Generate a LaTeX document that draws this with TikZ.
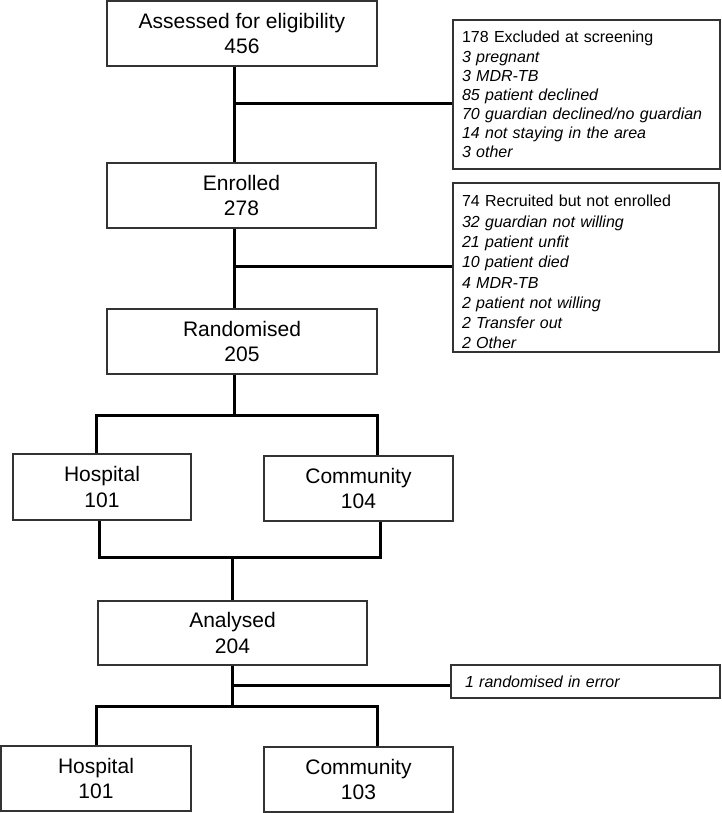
\documentclass[tikz,border=0pt]{standalone}
\usepackage{fontspec}
\setmainfont{Liberation Sans}
\usetikzlibrary{calc}

\begin{document}
\begin{tikzpicture}[x=1pt,y=-1pt]
	\tikzstyle{stage} = [draw=black!80, line width=1.3pt, align=center, inner sep=0pt, font=\fontsize{21}{25.7}\selectfont]
	\tikzstyle{excl} = [draw=black!80, line width=1.3pt, align=left, inner xsep=9pt, inner ysep=0pt, font=\fontsize{16}{19.1}\selectfont]
	\tikzstyle{link} = [line width=3pt, black]
	\useasboundingbox (0,0) rectangle (721,813);
	% main boxes
	\node[stage, minimum width=270pt, minimum height=65pt] (assess) at (242,33.5) {Assessed for eligibility\\456};
	\node[stage, minimum width=269pt, minimum height=65pt] (enrol) at (241.5,195.5) {Enrolled\\278};
	\node[stage, minimum width=270pt, minimum height=65pt] (rand) at (242,341.5) {Randomised\\205};
	\node[stage, minimum width=178pt, minimum height=66pt] (hosp1) at (102,487) {Hospital\\101};
	\node[stage, minimum width=189pt, minimum height=65pt] (comm1) at (358.5,488.5) {Community\\104};
	\node[stage, minimum width=269pt, minimum height=64pt] (anal) at (232.5,633) {Analysed\\204};
	\node[stage, minimum width=190pt, minimum height=65pt] (hosp2) at (96,778.5) {Hospital\\101};
	\node[stage, minimum width=189pt, minimum height=65pt] (comm2) at (358.5,779.5) {Community\\103};
	% exclusions
	\node[excl, text width=249pt, minimum height=149pt] (excl1) at (586.5,94.5) {178 Excluded at screening\\
		\textit{3 pregnant}\\
		\textit{3 MDR-TB}\\
		\textit{85 patient declined}\\
		\textit{70 guardian declined/no guardian}\\
		\textit{14 not staying in the area}\\
		\textit{3 other}};
	\node[excl, text width=248pt, minimum height=169pt, font=\fontsize{16}{20.3}\selectfont] (excl2) at (586,267.5) {\rule{0pt}{23.8pt}74 Recruited but not enrolled\\
		\textit{32 guardian not willing}\\
		\textit{21 patient unfit}\\
		\textit{10 patient died}\\
		\textit{4 MDR-TB}\\
		\textit{2 patient not willing}\\
		\textit{2 Transfer out}\\
		\textit{2 Other}\rule[-3pt]{0pt}{3pt}};
	\node[excl, inner xsep=14pt, text width=241pt, minimum height=33pt] (excl3) at (585.5,681.5) {\textit{1 randomised in error}};
	% connectors
	\coordinate (t1) at (234,104);
	\coordinate (t2) at (234,266);
	\draw[link] (assess.south -| t1) -- (enrol.north -| t1);
	\draw[link] (t1) -- (t1 -| excl1.west);
	\draw[link] (enrol.south -| t2) -- (rand.north -| t2);
	\draw[link] (t2) -- (t2 -| excl2.west);
	% split after randomisation
	\coordinate (s1) at (234,415);
	\coordinate (s1l) at (96,415);
	\coordinate (s1r) at (377,415);
	\draw[link] (rand.south -| s1) -- (s1);
	\draw[link] (hosp1.north -| s1l) -- (s1l) -- (s1r) -- (comm1.north -| s1r);
	% merge into analysis
	\coordinate (m1) at (232,557);
	\coordinate (m1l) at (99,557);
	\coordinate (m1r) at (380,557);
	\draw[link] (hosp1.south -| m1l) -- (m1l) -- (m1r) -- (comm1.south -| m1r);
	\draw[link] (m1) -- (anal.north -| m1);
	% split after analysis
	\coordinate (t3) at (232,685);
	\coordinate (s2) at (232,706);
	\coordinate (s2l) at (96,706);
	\coordinate (s2r) at (377,706);
	\draw[link] (anal.south -| t3) -- (s2);
	\draw[link] (t3) -- (t3 -| excl3.west);
	\draw[link] (hosp2.north -| s2l) -- (s2l) -- (s2r) -- (comm2.north -| s2r);
\end{tikzpicture}
\end{document}
